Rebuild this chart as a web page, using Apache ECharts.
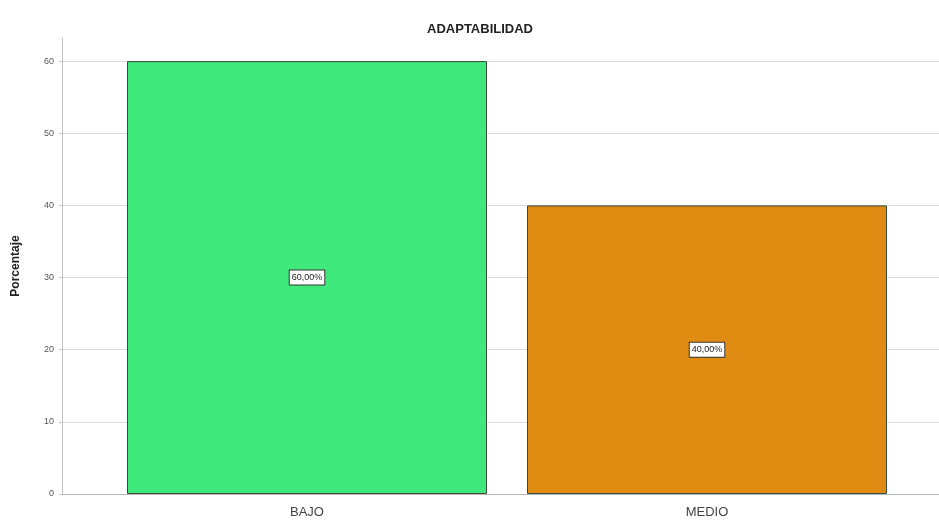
<!DOCTYPE html>
<html>
<head>
<meta charset="utf-8">
<script src="https://cdn.jsdelivr.net/npm/echarts@6/dist/echarts.min.js"></script>
<style>
  html, body { margin: 0; padding: 0; background: #fff; }
  #chart { width: 939px; height: 520px; }
</style>
</head>
<body>
<div id="chart"></div>
<script>
// Categories and percentages
const categories = ['BAJO', 'MEDIO'];
const percentages = [60, 40];
const barColors = ['#3fe87b', '#e08b12'];
const yTicks = [0, 10, 20, 30, 40, 50, 60];

const chart = echarts.init(document.getElementById('chart'));

// Bars sit on a numeric x scale so the plot frame can extend past the category bands
const barData = categories.map((c, i) => ({
  value: [i, percentages[i]],
  itemStyle: { color: barColors[i] }
}));

chart.setOption({
  animation: false,
  backgroundColor: '#ffffff',
  title: {
    text: 'ADAPTABILIDAD',
    left: 475,
    top: 18,
    textAlign: 'center',
    textStyle: { fontFamily: 'Liberation Sans, Arial', fontSize: 13, fontWeight: 'bold', color: '#222' }
  },
  grid: { left: 62, right: 0, top: 38, bottom: 26 },
  xAxis: {
    type: 'value',
    min: -0.6125,
    max: 1.58,
    axisLine: { show: true, onZero: false, lineStyle: { color: '#b8b8b8', width: 1 } },
    axisTick: { show: false },
    splitLine: { show: false },
    axisLabel: {
      customValues: [0, 1],
      formatter: v => categories[Math.round(v)] || '',
      fontFamily: 'Liberation Sans, Arial',
      fontSize: 13,
      color: '#444',
      margin: 12
    }
  },
  yAxis: {
    type: 'value',
    min: 0,
    max: 63.2,
    name: 'Porcentaje',
    nameLocation: 'middle',
    nameGap: 40,
    nameTextStyle: { fontFamily: 'Liberation Sans, Arial', fontSize: 12, fontWeight: 'bold', color: '#222' },
    axisLine: { show: true, onZero: false, lineStyle: { color: '#c4c4c4', width: 1 } },
    axisTick: { show: true, customValues: yTicks, length: 3, lineStyle: { color: '#c4c4c4' } },
    axisLabel: {
      customValues: yTicks,
      fontFamily: 'Liberation Sans, Arial',
      fontSize: 9,
      color: '#555',
      margin: 8
    },
    splitLine: {
      show: true,
      showMinLine: false,
      lineStyle: { color: '#dcdcdc', width: 1 }
    }
  },
  series: [{
    type: 'bar',
    data: barData,
    barWidth: 360,
    itemStyle: { borderColor: '#3a4a3a', borderWidth: 1 },
    label: {
      show: true,
      position: 'inside',
      formatter: p => p.value[1].toFixed(2).replace('.', ',') + '%',
      fontFamily: 'Liberation Sans, Arial',
      fontSize: 9,
      color: '#222',
      backgroundColor: '#ffffff',
      borderColor: '#333',
      borderWidth: 1,
      padding: [3, 2, 2, 2]
    }
  }]
});
</script>
</body>
</html>
